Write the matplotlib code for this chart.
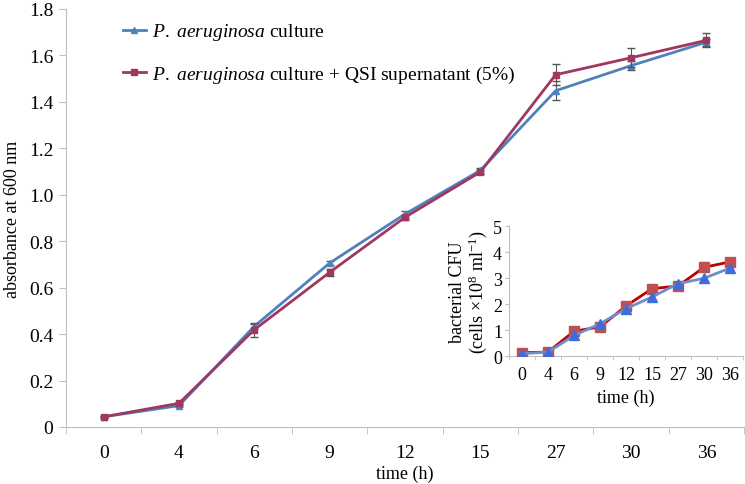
import matplotlib
matplotlib.use("Agg")
import matplotlib.pyplot as plt
from matplotlib.lines import Line2D
import numpy as np

plt.rcParams['font.family'] = ['Liberation Serif', 'DejaVu Serif']
plt.rcParams['mathtext.fontset'] = 'custom'
plt.rcParams['mathtext.rm'] = 'Liberation Serif'
plt.rcParams['mathtext.it'] = 'Liberation Serif:italic'

# time points (categorical)
times = ['0', '4', '6', '9', '12', '15', '27', '30', '36']

# main chart: absorbance at 600 nm
abs_culture = [0.044, 0.092, 0.434, 0.706, 0.917, 1.105, 1.448, 1.556, 1.657]
abs_culture_err = [0.005, 0.006, 0.010, 0.010, 0.015, 0.010, 0.040, 0.020, 0.015]
abs_qsi = [0.044, 0.102, 0.419, 0.666, 0.903, 1.098, 1.517, 1.590, 1.665]
abs_qsi_err = [0.005, 0.006, 0.030, 0.015, 0.010, 0.008, 0.045, 0.040, 0.030]

# inset: bacterial CFU (x10^8 cells/ml)
cfu_culture = [0.09, 0.15, 0.79, 1.24, 1.82, 2.27, 2.78, 2.99, 3.38]
cfu_qsi = [0.13, 0.15, 0.95, 1.12, 1.92, 2.59, 2.69, 3.41, 3.62]
cfu_qsi_err = [0.0, 0.0, 0.0, 0.0, 0.0, 0.0, 0.15, 0.08, 0.15]

labels = ['culture', 'culture + QSI supernatant (5%)']

blue = '#4F81BD'
maroon = '#A0375E'
grey = '#BFBFBF'

W, H = 745, 485
fig = plt.figure(figsize=(W / 100, H / 100), dpi=100)
ax = fig.add_axes([66 / W, 1 - 428 / H, (744 - 66) / W, (428 - 10) / H])

x = np.arange(len(times))
ax.errorbar(x, abs_culture, yerr=abs_culture_err, color=blue, lw=2, marker='^',
            ms=5, ecolor='#555555', elinewidth=0.8, capsize=3, zorder=3)
ax.errorbar(x, abs_qsi, yerr=abs_qsi_err, color=maroon, lw=2, marker='s',
            ms=4, ecolor='#555555', elinewidth=0.8, capsize=3, zorder=4)

ax.set_xlim(-0.5, len(times) - 0.5)
ax.set_ylim(0, 1.8)
ax.set_yticks(np.arange(0, 1.81, 0.2))
ax.set_yticklabels(['0'] + ['%.1f' % v for v in np.arange(0.2, 1.81, 0.2)])
ax.set_xticks(x)
ax.set_xticklabels(times)
ax.set_xticks(np.arange(-0.5, len(times), 1), minor=True)
ax.tick_params(axis='x', which='major', length=0, pad=12, labelsize=14)
ax.tick_params(axis='x', which='minor', length=5, color=grey, direction='out')
ax.tick_params(axis='y', length=5, color=grey, labelsize=14, pad=4)
for s in ['top', 'right']:
    ax.spines[s].set_visible(False)
for s in ['left', 'bottom']:
    ax.spines[s].set_color(grey)
ax.set_xlabel('time (h)', fontsize=13, labelpad=3)
ax.set_ylabel('absorbance at 600 nm', fontsize=13, labelpad=6)

handles = [Line2D([], [], color=blue, lw=2, marker='^', ms=4),
           Line2D([], [], color=maroon, lw=2, marker='s', ms=4)]
ax.legend(handles, [r'$\mathit{P.}$ $\mathit{aeruginosa}$ ' + t for t in labels],
          loc='upper left', bbox_to_anchor=(0.058, 1.012), frameon=False,
          fontsize=14, handlelength=1.2, handletextpad=0.3,
          labelspacing=1.1)

# inset
ax2 = fig.add_axes([509 / W, 1 - 357 / H, (743 - 509) / W, (357 - 227) / H])
ax2.plot(x, cfu_culture, color='#6C8FC8', lw=2, zorder=4)
ax2.plot(x, cfu_culture, ls='none', marker='^', ms=7.5, color='#3D6DDB', zorder=5)
ax2.errorbar(x, cfu_qsi, yerr=cfu_qsi_err, color='#C00000', lw=2, marker='s',
             ms=7.5, mfc='#C0504D', mec='#C0504D', ecolor='#333333',
             elinewidth=0.8, capsize=2, zorder=3)
ax2.set_xlim(-0.5, len(times) - 0.5)
ax2.set_ylim(0, 5)
ax2.set_yticks(range(0, 6))
ax2.set_xticks(x)
ax2.set_xticklabels(times)
ax2.set_xticks(np.arange(-0.5, len(times), 1), minor=True)
ax2.tick_params(axis='x', which='major', length=0, pad=7, labelsize=13)
ax2.tick_params(axis='x', which='minor', length=3, color=grey)
ax2.tick_params(axis='y', length=3, color=grey, labelsize=13, pad=2)
for s in ['top', 'right']:
    ax2.spines[s].set_visible(False)
for s in ['left', 'bottom']:
    ax2.spines[s].set_color(grey)
ax2.set_xlabel('time (h)', fontsize=13, labelpad=4)
ax2.set_ylabel('bacterial CFU\n(cells $\\times$10$^8$ ml$^{-1}$)', fontsize=13,
               labelpad=3, linespacing=1.0)

fig.savefig('out.png', dpi=100)
